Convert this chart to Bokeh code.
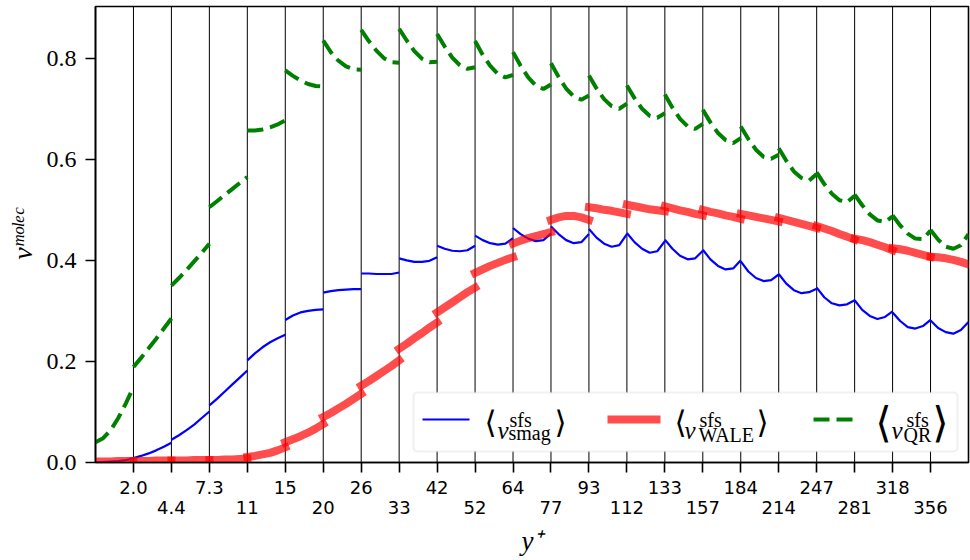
from bokeh.plotting import figure
from bokeh.models import (Range1d, FixedTicker, LinearAxis, Span, Label,
                          BoxAnnotation, Arrow, NumeralTickFormatter)
from bokeh.embed import file_html
from bokeh.resources import INLINE

# ---------------- data ----------------
yplus_labels = ["2.0", "4.4", "7.3", "11", "15", "20", "26", "33", "42", "52", "64",
                "77", "93", "112", "133", "157", "184", "214", "247", "281", "318", "356"]

# positions (fraction of each cell) at which values were read
sample_frac = [0.0, 0.2, 0.4, 0.6, 0.8, 1.0]

nu_smag = [
    [0.000, 0.001, 0.002, 0.003, 0.005, 0.008],
    [0.009, 0.013, 0.018, 0.024, 0.031, 0.039],
    [0.045, 0.054, 0.064, 0.075, 0.088, 0.101],
    [0.113, 0.126, 0.140, 0.154, 0.168, 0.182],
    [0.202, 0.216, 0.228, 0.238, 0.246, 0.253],
    [0.282, 0.291, 0.297, 0.300, 0.302, 0.303],
    [0.336, 0.339, 0.341, 0.342, 0.343, 0.343],
    [0.374, 0.374, 0.373, 0.373, 0.373, 0.376],
    [0.404, 0.400, 0.397, 0.397, 0.399, 0.406],
    [0.429, 0.423, 0.419, 0.418, 0.420, 0.429],
    [0.449, 0.440, 0.434, 0.431, 0.433, 0.444],
    [0.464, 0.452, 0.443, 0.438, 0.440, 0.453],
    [0.467, 0.452, 0.440, 0.434, 0.436, 0.452],
    [0.462, 0.445, 0.433, 0.427, 0.430, 0.452],
    [0.454, 0.436, 0.423, 0.415, 0.418, 0.438],
    [0.441, 0.423, 0.409, 0.402, 0.404, 0.419],
    [0.421, 0.402, 0.389, 0.382, 0.384, 0.400],
    [0.398, 0.378, 0.365, 0.359, 0.361, 0.372],
    [0.373, 0.354, 0.341, 0.335, 0.337, 0.344],
    [0.346, 0.327, 0.315, 0.311, 0.313, 0.321],
    [0.321, 0.302, 0.290, 0.284, 0.288, 0.299],
    [0.297, 0.280, 0.268, 0.265, 0.270, 0.282],
    [0.281, 0.266, 0.258, 0.255, 0.262, 0.278],
]

nu_wale = [
    [0.002, 0.002, 0.002, 0.003, 0.003, 0.003],
    [0.003, 0.003, 0.003, 0.004, 0.004, 0.004],
    [0.004, 0.004, 0.004, 0.005, 0.005, 0.005],
    [0.005, 0.005, 0.006, 0.006, 0.007, 0.008],
    [0.011, 0.013, 0.016, 0.019, 0.024, 0.030],
    [0.040, 0.046, 0.052, 0.059, 0.067, 0.076],
    [0.090, 0.098, 0.107, 0.116, 0.126, 0.136],
    [0.152, 0.161, 0.171, 0.181, 0.191, 0.202],
    [0.225, 0.235, 0.246, 0.256, 0.267, 0.277],
    [0.297, 0.307, 0.317, 0.327, 0.337, 0.346],
    [0.375, 0.382, 0.389, 0.395, 0.401, 0.406],
    [0.433, 0.439, 0.444, 0.448, 0.452, 0.456],
    [0.480, 0.485, 0.488, 0.488, 0.485, 0.480],
    [0.505, 0.503, 0.500, 0.498, 0.495, 0.492],
    [0.510, 0.507, 0.504, 0.501, 0.499, 0.497],
    [0.507, 0.503, 0.499, 0.496, 0.492, 0.489],
    [0.500, 0.496, 0.493, 0.489, 0.486, 0.482],
    [0.492, 0.489, 0.486, 0.483, 0.480, 0.477],
    [0.484, 0.480, 0.476, 0.472, 0.468, 0.464],
    [0.468, 0.463, 0.458, 0.452, 0.447, 0.441],
    [0.443, 0.440, 0.436, 0.431, 0.426, 0.420],
    [0.424, 0.422, 0.419, 0.415, 0.411, 0.407],
    [0.407, 0.406, 0.404, 0.401, 0.397, 0.392],
]

nu_qr = [
    [0.040, 0.048, 0.064, 0.088, 0.117, 0.149],
    [0.189, 0.207, 0.226, 0.245, 0.265, 0.285],
    [0.350, 0.365, 0.381, 0.398, 0.415, 0.433],
    [0.505, 0.517, 0.529, 0.541, 0.553, 0.565],
    [0.657, 0.657, 0.659, 0.663, 0.669, 0.677],
    [0.776, 0.765, 0.756, 0.749, 0.745, 0.744],
    [0.835, 0.812, 0.795, 0.784, 0.778, 0.777],
    [0.856, 0.834, 0.815, 0.800, 0.792, 0.791],
    [0.858, 0.835, 0.814, 0.799, 0.792, 0.793],
    [0.848, 0.823, 0.801, 0.786, 0.779, 0.782],
    [0.834, 0.807, 0.785, 0.769, 0.762, 0.767],
    [0.812, 0.785, 0.762, 0.746, 0.739, 0.748],
    [0.790, 0.763, 0.740, 0.724, 0.718, 0.726],
    [0.766, 0.740, 0.719, 0.705, 0.700, 0.710],
    [0.746, 0.721, 0.700, 0.686, 0.682, 0.691],
    [0.728, 0.702, 0.680, 0.665, 0.660, 0.670],
    [0.698, 0.673, 0.652, 0.638, 0.632, 0.642],
    [0.665, 0.640, 0.619, 0.605, 0.601, 0.609],
    [0.622, 0.597, 0.576, 0.563, 0.558, 0.571],
    [0.574, 0.551, 0.532, 0.519, 0.515, 0.528],
    [0.530, 0.509, 0.491, 0.479, 0.476, 0.487],
    [0.489, 0.469, 0.453, 0.443, 0.442, 0.459],
    [0.460, 0.441, 0.427, 0.423, 0.430, 0.452],
]

y_ticks = [0.0, 0.2, 0.4, 0.6, 0.8]

# ---------------- layout ----------------
W, H = 970, 560
FL, FR, FT, FB = 95, 2, 6, 98          # borders around the plotting frame
FRAME_BOTTOM = H - FB

n_cells = len(nu_smag)
tick_pos = list(range(1, n_cells))
xs = [[i + f for f in sample_frac] for i in range(n_cells)]

p = figure(width=W, height=H, output_backend="svg", toolbar_location=None,
           x_range=Range1d(0, n_cells), y_range=Range1d(0, 0.9023),
           min_border_left=FL, min_border_right=FR, min_border_top=FT,
           min_border_bottom=FB, background_fill_color="white",
           border_fill_color="white")
p.xgrid.visible = False
p.ygrid.visible = False
p.outline_line_color = "black"
p.outline_line_width = 1.6

serif = "Liberation Serif"

# y axis
ya = p.yaxis[0]
ya.ticker = FixedTicker(ticks=y_ticks)
ya.formatter = NumeralTickFormatter(format="0.0")
ya.major_label_text_font = serif
ya.major_label_text_font_size = "24px"
ya.major_label_text_color = "black"
ya.major_tick_out = 10
ya.major_tick_in = 0
ya.major_tick_line_width = 1.6
ya.major_tick_line_color = "black"
ya.minor_tick_line_color = None
ya.axis_line_color = "black"
ya.axis_line_width = 1.6
ya.major_label_standoff = 9
ya.axis_label = "νᵐᵒˡᵉᶜ"
ya.axis_label_text_font = serif
ya.axis_label_text_font_size = "28px"
ya.axis_label_text_font_style = "italic"
ya.axis_label_text_color = "black"
ya.axis_label_standoff = 6

# x axis (upper row of labels)
xa = p.xaxis[0]
xa.ticker = FixedTicker(ticks=tick_pos)
xa.major_label_overrides = {t: (yplus_labels[t - 1] if t % 2 == 1 else "") for t in tick_pos}
xa.major_label_text_font = "DejaVu Sans"
xa.major_label_text_font_size = "18px"
xa.major_label_text_color = "black"
xa.major_tick_out = 10
xa.major_tick_in = 0
xa.major_tick_line_width = 1.6
xa.major_tick_line_color = "black"
xa.minor_tick_line_color = None
xa.axis_line_color = "black"
xa.axis_line_width = 1.6
xa.major_label_standoff = 8

# second x axis (lower row of labels) carrying the axis title
xb = LinearAxis(ticker=FixedTicker(ticks=tick_pos),
                major_label_overrides={t: (yplus_labels[t - 1] if t % 2 == 0 else "") for t in tick_pos},
                major_label_text_font="DejaVu Sans", major_label_text_font_size="18px",
                major_label_text_color="black", major_tick_line_color=None,
                minor_tick_line_color=None, axis_line_color=None,
                major_tick_out=0, major_tick_in=0, major_label_standoff=4,
                axis_label="y⁺", axis_label_text_font=serif,
                axis_label_text_font_size="27px", axis_label_text_font_style="italic",
                axis_label_text_color="black", axis_label_standoff=9)
p.add_layout(xb, "below")

# cell boundaries
for t in tick_pos:
    p.add_layout(Span(location=t, dimension="height", line_color="black",
                      line_width=1, level="underlay"))

# curves
p.multi_line(xs=xs, ys=nu_smag, line_color="blue", line_width=2.2)
p.multi_line(xs=xs, ys=nu_wale, line_color="red", line_alpha=0.7, line_width=8,
             line_cap="square")
p.multi_line(xs=xs, ys=nu_qr, line_color="green", line_width=4, line_dash="16 7")


def sx(px):
    return px - FL


def sy(py):
    return FRAME_BOTTOM - py


def lab(text, px, py, size, font=serif, style="normal", align="left",
        baseline="alphabetic"):
    p.add_layout(Label(x=sx(px), y=sy(py), x_units="screen", y_units="screen",
                       text=text, text_font=font, text_font_size=size,
                       text_font_style=style, text_align=align,
                       text_baseline=baseline, text_color="black"))


# legend
p.add_layout(BoxAnnotation(left=sx(413), right=sx(957), top=sy(392), bottom=sy(451),
                           left_units="screen", right_units="screen",
                           top_units="screen", bottom_units="screen",
                           fill_color="white", fill_alpha=1.0,
                           line_color="#cccccc", line_width=2, border_radius=4))
p.add_layout(Arrow(x_start=sx(422), y_start=sy(419), x_end=sx(469), y_end=sy(419),
                   start_units="screen", end_units="screen", end=None,
                   line_color="blue", line_width=2.2))
p.add_layout(Arrow(x_start=sx(611), y_start=sy(419), x_end=sx(656), y_end=sy(419),
                   start_units="screen", end_units="screen", end=None,
                   line_color="red", line_alpha=0.7, line_width=8, line_cap="square"))
p.add_layout(Arrow(x_start=sx(813), y_start=sy(419), x_end=sx(859), y_end=sy(419),
                   start_units="screen", end_units="screen", end=None,
                   line_color="green", line_width=4, line_dash="16 7"))

br = "DejaVu Sans"
# entry 1
lab("⟨", 490, 421, "31px", font=br, align="center", baseline="middle")
lab("ν", 497, 430, "25px", style="italic")
lab("sfs", 509, 419, "20px")
lab("smag", 508, 432, "20px")
lab("⟩", 560, 421, "31px", font=br, align="center", baseline="middle")
# entry 2
lab("⟨", 680, 421, "31px", font=br, align="center", baseline="middle")
lab("ν", 684, 430, "25px", style="italic")
lab("sfs", 699, 419, "20px")
lab("WALE", 698, 434, "20px")
lab("⟩", 762, 421, "31px", font=br, align="center", baseline="middle")
# entry 3
lab("⟨", 883, 422, "42px", font=br, align="center", baseline="middle")
lab("ν", 891, 430, "25px", style="italic")
lab("sfs", 906, 419, "20px")
lab("QR", 903, 434, "20px")
lab("⟩", 940, 422, "42px", font=br, align="center", baseline="middle")

open("out.html", "w").write(file_html(p, INLINE))
